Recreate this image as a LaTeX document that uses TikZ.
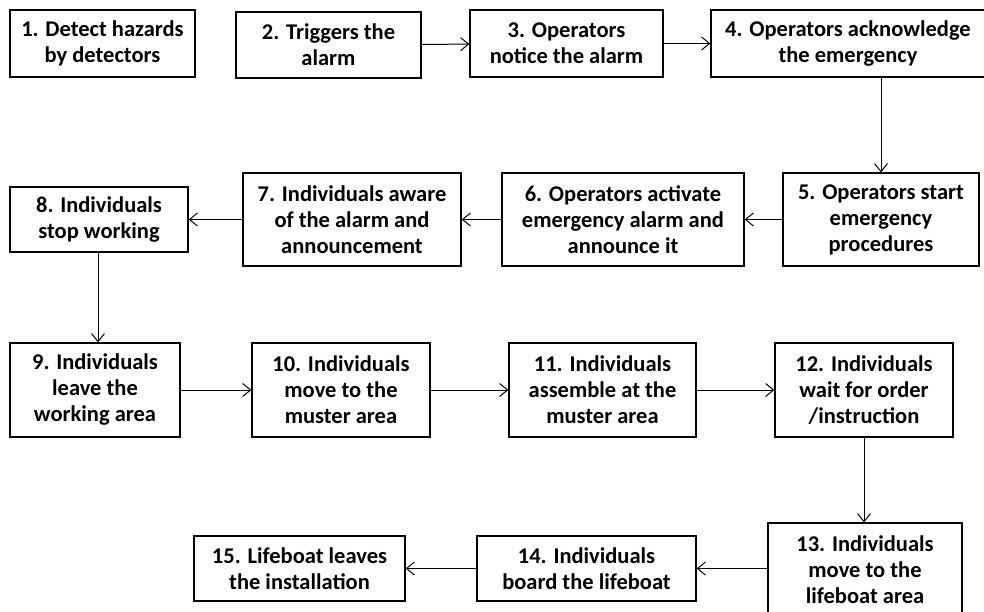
\documentclass[tikz,border=0pt]{standalone}
\usepackage{fontspec}
\setmainfont{Carlito}
\usetikzlibrary{arrows.meta}

\begin{document}
\begin{tikzpicture}[x=1pt,y=-1pt,
    stepbox/.style={draw,line width=1.3pt,align=center,inner sep=0pt,
        font=\fontsize{22.5}{26}\selectfont\bfseries},
    flow/.style={line width=1pt,-{Straight Barb[length=8pt,width=13pt,line width=1pt]}}]
    \useasboundingbox (0,0) rectangle (984,611);
    \clip (0,0) rectangle (984,611);
    % first row
    \node[stepbox,minimum width=185pt,minimum height=67pt] (n1) at (102.5,43.5) {1. Detect hazards\\by detectors};
    \node[stepbox,minimum width=185pt,minimum height=66pt] (n2) at (328.5,45) {2. Triggers the\\alarm};
    \node[stepbox,minimum width=193pt,minimum height=67pt] (n3) at (566.5,43.5) {3. Operators\\notice the alarm};
    \node[stepbox,minimum width=274pt,minimum height=67pt] (n4) at (848,43.5) {4. Operators acknowledge\\the emergency};
    % second row
    \node[stepbox,minimum width=196pt,minimum height=93pt] (n5) at (881,219.5) {5. Operators start\\emergency\\procedures};
    \node[stepbox,minimum width=242pt,minimum height=93pt] (n6) at (623,219.5) {6. Operators activate\\emergency alarm and\\announce it};
    \node[stepbox,minimum width=218pt,minimum height=93pt] (n7) at (352,219.5) {7. Individuals aware\\of the alarm and\\announcement};
    \node[stepbox,minimum width=178pt,minimum height=65pt] (n8) at (99,219.5) {8. Individuals\\stop working};
    % third row
    \node[stepbox,minimum width=170pt,minimum height=94pt] (n9) at (95,390) {9. Individuals\\leave the\\working area};
    \node[stepbox,minimum width=178pt,minimum height=94pt] (n10) at (341,390) {10. Individuals\\move to the\\muster area};
    \node[stepbox,minimum width=187pt,minimum height=94pt] (n11) at (602.5,390) {11. Individuals\\assemble at the\\muster area};
    \node[stepbox,minimum width=178pt,minimum height=94pt] (n12) at (864,390) {12. Individuals\\wait for order\\/instruction};
    % last row
    \node[stepbox,minimum width=194pt,minimum height=94pt] (n13) at (865,570) {13. Individuals\\move to the\\lifeboat area};
    \node[stepbox,minimum width=219pt,minimum height=65pt] (n14) at (586.5,568.5) {14. Individuals\\board the lifeboat};
    \node[stepbox,minimum width=211pt,minimum height=65pt] (n15) at (299.5,568.5) {15. Lifeboat leaves\\the installation};
    % connectors
    \draw[flow] (n2) -- (n3);
    \draw[flow] (n3) -- (n4);
    \draw[flow] (n4.south -| n5) -- (n5);
    \draw[flow] (n5) -- (n6);
    \draw[flow] (n6) -- (n7);
    \draw[flow] (n7.west |- n8) -- (n8);
    \draw[flow] ([xshift=-1pt]n8.south) -- ([xshift=-1pt]n8.south |- n9.north);
    \draw[flow] (n9) -- (n10);
    \draw[flow] (n10) -- (n11);
    \draw[flow] (n11) -- (n12);
    \draw[flow] (n12) -- (n12 |- n13.north);
    \draw[flow] (n13.west |- n14) -- (n14);
    \draw[flow] (n14) -- (n15);
\end{tikzpicture}
\end{document}
